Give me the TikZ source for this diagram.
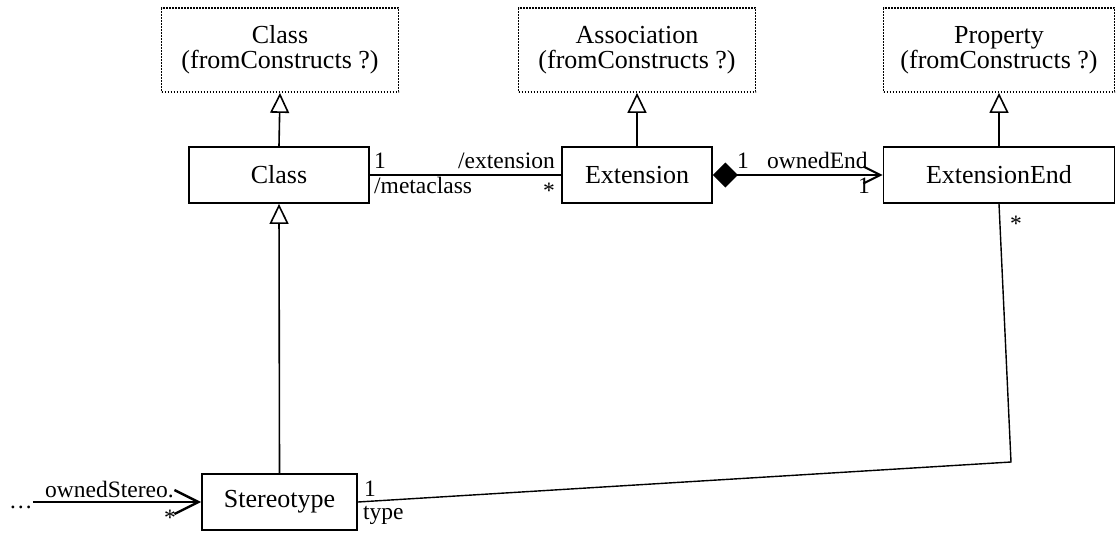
\documentclass[tikz,border=0pt]{standalone}
\usepackage{fontspec}
\setmainfont{Liberation Serif}
\usetikzlibrary{arrows.meta}
\begin{document}
\begin{tikzpicture}[x=1pt,y=-1pt,
  namefont/.style={font=\fontsize{26}{28}\selectfont},
  lbl/.style={font=\fontsize{23.5}{26}\selectfont, inner sep=0pt},
  classbox/.style={draw, line width=1.8pt, minimum height=56pt, inner sep=0pt, namefont},
  srcbox/.style={draw, line width=1.8pt, dash pattern=on 1.6pt off 1.4pt,
    minimum width=237pt, minimum height=84pt, inner sep=0pt, align=center,
    namefont},
  gen/.style={line width=1.6pt, -{Triangle[open, length=20pt, width=19pt, fill=white]}},
  assoc/.style={line width=1.4pt},
  nav/.style={line width=2.4pt}
]
\useasboundingbox (0,0) rectangle (1116,533);

% imported metaclasses
\node[srcbox] (pcls)  at (280,50)  {Class\\[-3pt](fromConstructs ?)};
\node[srcbox] (passo) at (637,50)  {Association\\[-3pt](fromConstructs ?)};
\node[srcbox, minimum width=231pt] (pprop) at (999,50) {Property\\[-3pt](fromConstructs ?)};

% profile metaclasses
\node[classbox, minimum width=180pt] (cls) at (279,175)   {Class};
\node[classbox, minimum width=150pt] (ext) at (637,175)   {Extension};
\node[classbox, minimum width=231pt] (ee)  at (999,175)   {ExtensionEnd};
\node[classbox, minimum width=155pt] (st)  at (279.5,502) {Stereotype};

% generalizations
\draw[gen] (cls.north) -- (pcls.south);
\draw[gen] (ext.north) -- (passo.south);
\draw[gen] (ee.north)  -- (pprop.south);
\draw[gen] (st.north)  -- (cls.south);

% Class -- Extension
\draw[assoc] (cls.east) -- (ext.west);
\node[lbl, anchor=base west] (m1)  at (374,168) {1};
\node[lbl, anchor=base east] (m2)  at (555,168) {/extension};
\node[lbl, anchor=base west] (m3)  at (374,193) {/metaclass};
\node[lbl, anchor=center]    (m4)  at (549,191) {*};

% Extension <>-- ExtensionEnd
\draw[nav, {Diamond[length=25pt, width=25pt, line width=0pt]}-{Straight Barb[length=17pt, width=17pt, line width=2pt]}]
  (ext.east) -- (ee.west);
\node[lbl, anchor=base west] (o1) at (737,168) {1};
\node[lbl, anchor=base west] (o2) at (767,168) {ownedEnd};
\node[lbl, anchor=base]      (o3) at (864,193) {1};

% ExtensionEnd -- Stereotype
\coordinate (bend) at (1011,462);
\draw[assoc] (ee.south) -- (bend) -- (st.east);
\node[lbl, anchor=center]    (t1) at (1016,224) {*};
\node[lbl, anchor=base west] (t2) at (364,496)  {1};
\node[lbl, anchor=base west] (t3) at (363,519)  {type};

% ownedStereotype
\node[lbl, anchor=base west] (dots) at (9,508) {…};
\draw[nav, -{Straight Barb[length=24pt, width=24pt, line width=2.4pt]}]
  (dots.east |- st.west) -- (st.west);
\node[lbl, anchor=base west] (s1) at (45,497) {ownedStereo.};
\node[lbl, anchor=center]    (s2) at (170,518) {*};
\end{tikzpicture}
\end{document}
